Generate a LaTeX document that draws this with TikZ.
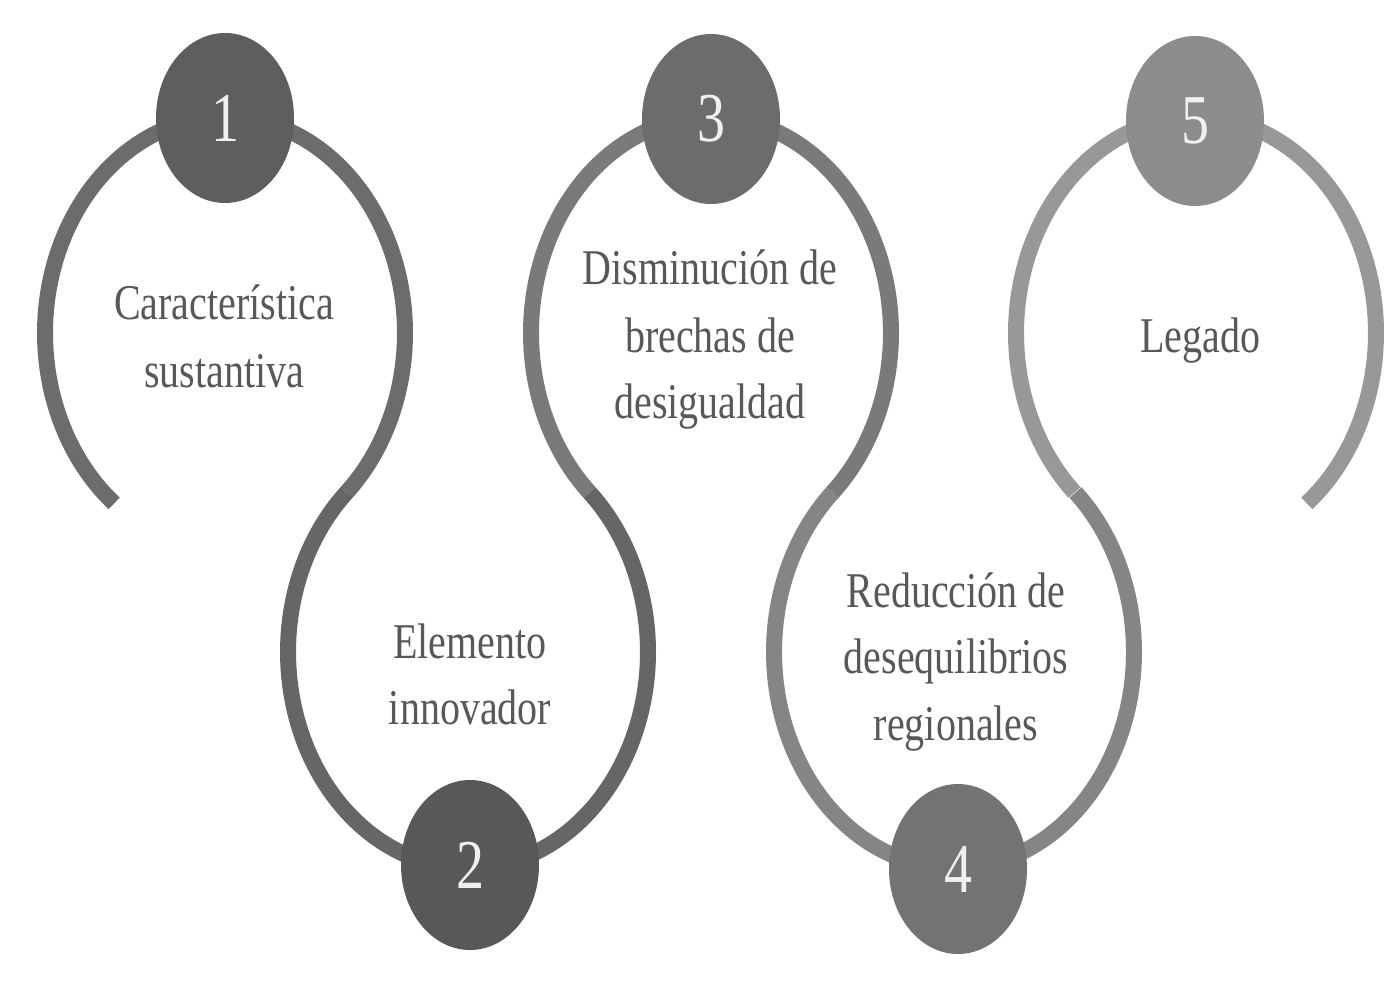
\documentclass[tikz,border=0pt]{standalone}
\usepackage{fontspec}
\setmainfont{Liberation Serif}
\newfontfamily\labelfont[FakeStretch=0.8]{Liberation Serif}
\usetikzlibrary{shapes.geometric}
\definecolor{trackA}{HTML}{6C6C6C}
\definecolor{trackB}{HTML}{666666}
\definecolor{trackC}{HTML}{7A7A7A}
\definecolor{trackD}{HTML}{858585}
\definecolor{trackE}{HTML}{989898}
\definecolor{discA}{HTML}{5E5E5E}
\definecolor{discB}{HTML}{585858}
\definecolor{discC}{HTML}{6C6C6C}
\definecolor{discD}{HTML}{737373}
\definecolor{discE}{HTML}{8C8C8C}
\definecolor{txt}{HTML}{585858}
\begin{document}
\begin{tikzpicture}[x=0.5pt,y=-0.5pt,
  track/.style={line width=8pt,line cap=butt,line join=round},
  disc/.style={ellipse,inner sep=0pt,minimum width=69pt,minimum height=85pt,
    text=white!94!black,font=\labelfont\fontsize{35}{40}\selectfont},
  lbl/.style={anchor=base,inner sep=0pt,text=txt,font=\labelfont\fontsize{25}{30}\selectfont}]
\useasboundingbox[fill=white] (0,0) rectangle (1384,1005);
% loops of the track
\draw[track,trackA] plot[domain=128:407.54,samples=140] ({225+180*cos(\x)},{333+216.2*sin(\x)});
\draw[track,trackB] plot[domain=227.54:-47.54,samples=140] ({468+180*cos(\x)},{652+216.2*sin(\x)});
\draw[track,trackC] plot[domain=132.46:407.54,samples=140] ({711+180*cos(\x)},{333+216.2*sin(\x)});
\draw[track,trackD] plot[domain=227.54:-47.54,samples=140] ({954+180*cos(\x)},{652+216.2*sin(\x)});
\draw[track,trackE] plot[domain=132.46:412,samples=140] ({1196+180*cos(\x)},{333+216.2*sin(\x)});
% numbered discs
\node[disc,fill=discA] (n1) at (225,118) {1};
\node[disc,fill=discB] (n2) at (470,865) {2};
\node[disc,fill=discC] (n3) at (711,119) {3};
\node[disc,fill=discD] (n4) at (958,869) {4};
\node[disc,fill=discE] (n5) at (1195,121) {5};
% labels
\node[lbl] (t1a) at (224,320) {Característica};
\node[lbl] (t1b) at (224,387) {sustantiva};
\node[lbl] (t2a) at (470,658) {Elemento};
\node[lbl] (t2b) at (470,724) {innovador};
\node[lbl] (t3a) at (710,285) {Disminución de};
\node[lbl] (t3b) at (710,352) {brechas de};
\node[lbl] (t3c) at (710,418) {desigualdad};
\node[lbl] (t4a) at (956,607) {Reducción de};
\node[lbl] (t4b) at (956,673) {desequilibrios};
\node[lbl] (t4c) at (956,740) {regionales};
\node[lbl] (t5a) at (1200,352) {Legado};
\end{tikzpicture}
\end{document}
